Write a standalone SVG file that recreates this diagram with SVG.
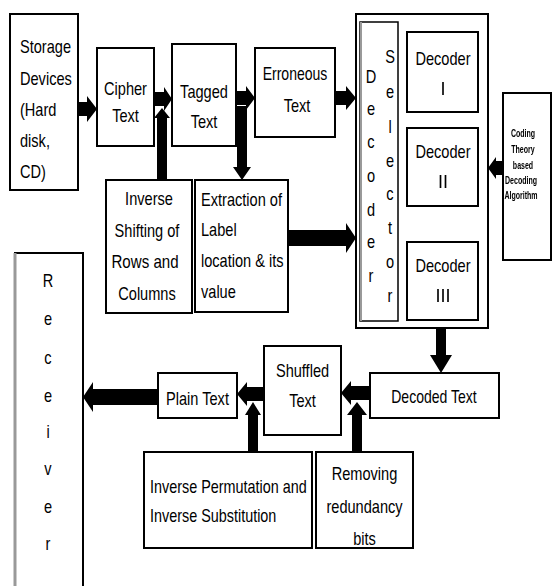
<svg xmlns="http://www.w3.org/2000/svg" width="552" height="586" viewBox="0 0 552 586">
<style>
.b{fill:#fff;stroke:#000;stroke-width:2}
text{font-family:"Liberation Sans",Arial,sans-serif;font-size:18px;fill:#000}
.m{text-anchor:middle}
.s{font-size:11px;font-weight:bold}
.a{fill:#000;stroke:none}
</style>
<defs>
<filter id="gray" x="0" y="0" width="552" height="586" filterUnits="userSpaceOnUse"><feOffset dx="0" dy="0"/></filter>
</defs>
<rect width="552" height="586" fill="#fff"/>
<g id="connectors">
<path class="a" d="M78,102 L87,102 L87,96 L97,109 L87,122 L87,116 L78,116 Z"/>
<path class="a" d="M154,92 L164,92 L164,87 L172,99 L164,111 L164,106 L154,106 Z"/>
<path class="a" d="M236,91 L246,91 L246,86 L255,98 L246,110 L246,105 L236,105 Z"/>
<path class="a" d="M157,180 L157,118 L154,118 L162,108 L170,118 L167,118 L167,180 Z"/>
<path class="a" d="M237,106 L247,106 L247,167 L251,167 L242,180 L233,167 L237,167 Z"/>
<path class="a" d="M335,91 L346,91 L346,86 L356,98 L346,110 L346,105 L335,105 Z"/>
<path class="a" d="M288,230 L346,230 L346,223 L356,238 L346,253 L346,246 L288,246 Z"/>
<path class="a" d="M503,161 L496,161 L496,157 L488,168 L496,179 L496,175 L503,175 Z"/>
<path class="a" d="M436,328 L446,328 L446,355 L452,355 L441,373 L430,355 L436,355 Z"/>
<path class="a" d="M370,386 L351,386 L351,381 L341,393 L351,405 L351,400 L370,400 Z"/>
<path class="a" d="M352,452 L352,415 L347,415 L357,402 L367,415 L362,415 L362,452 Z"/>
<path class="a" d="M264,387 L247,387 L247,382 L237,394 L247,406 L247,401 L264,401 Z"/>
<path class="a" d="M248,452 L248,415 L245,415 L253,402 L261,415 L258,415 L258,452 Z"/>
<path class="a" d="M158,389 L93,389 L93,382 L83,397 L93,412 L93,405 L158,405 Z"/>
</g>
<g id="storage">
<rect class="b" x="10" y="14" width="68" height="176"/>
<text transform="matrix(.81 0 0 1 20 0)" y="53">Storage</text>
<text transform="matrix(.81 0 0 1 20 0)" y="85">Devices</text>
<text transform="matrix(.81 0 0 1 20 0)" y="116">(Hard</text>
<text transform="matrix(.81 0 0 1 20 0)" y="147">disk,</text>
<text transform="matrix(.81 0 0 1 20 0)" y="178">CD)</text>
</g>
<g id="cipher">
<rect class="b" x="97" y="48" width="57" height="98"/>
<text class="m" transform="matrix(.81 0 0 1 125.5 0)" y="95">Cipher</text>
<text class="m" transform="matrix(.81 0 0 1 125.5 0)" y="122">Text</text>
</g>
<g id="tagged">
<rect class="b" x="172" y="44" width="64" height="102"/>
<text class="m" transform="matrix(.81 0 0 1 204 0)" y="98">Tagged</text>
<text class="m" transform="matrix(.81 0 0 1 204 0)" y="128">Text</text>
</g>
<g id="erroneous">
<rect class="b" x="255" y="48" width="80" height="89"/>
<text class="m" transform="matrix(.78 0 0 1 295 0)" y="80">Erroneous</text>
<text class="m" transform="matrix(.81 0 0 1 297 0)" y="112">Text</text>
</g>
<g id="decoder-selector">
<rect class="b" x="356" y="14" width="132" height="314"/>
<rect x="360" y="22" width="38" height="299" fill="#fff" stroke="#000" stroke-width="1.5"/>
<line x1="361" y1="22" x2="361" y2="321" stroke="#999" stroke-width="2"/>
<text class="m" transform="matrix(.81 0 0 1 371 0)" y="83">D</text>
<text class="m" transform="matrix(.81 0 0 1 371 0)" y="115">e</text>
<text class="m" transform="matrix(.81 0 0 1 371 0)" y="148">c</text>
<text class="m" transform="matrix(.81 0 0 1 371 0)" y="182">o</text>
<text class="m" transform="matrix(.81 0 0 1 371 0)" y="216">d</text>
<text class="m" transform="matrix(.81 0 0 1 371 0)" y="248">e</text>
<text class="m" transform="matrix(.81 0 0 1 371 0)" y="282">r</text>
<text class="m" transform="matrix(.81 0 0 1 390 0)" y="63">S</text>
<text class="m" transform="matrix(.81 0 0 1 390 0)" y="98">e</text>
<text class="m" transform="matrix(.81 0 0 1 390 0)" y="133">l</text>
<text class="m" transform="matrix(.81 0 0 1 390 0)" y="167">e</text>
<text class="m" transform="matrix(.81 0 0 1 390 0)" y="200">c</text>
<text class="m" transform="matrix(.81 0 0 1 390 0)" y="234">t</text>
<text class="m" transform="matrix(.81 0 0 1 390 0)" y="268">o</text>
<text class="m" transform="matrix(.81 0 0 1 390 0)" y="302">r</text>
</g>
<g id="decoder1">
<rect class="b" x="407" y="32" width="71" height="80"/>
<text class="m" transform="matrix(.81 0 0 1 443 0)" y="65">Decoder</text>
<text class="m" x="443" y="95" filter="url(#gray)">I</text>
</g>
<g id="decoder2">
<rect class="b" x="407" y="128" width="71" height="78"/>
<text class="m" transform="matrix(.81 0 0 1 443 0)" y="158">Decoder</text>
<text class="m" x="443" y="188" filter="url(#gray)">II</text>
</g>
<g id="decoder3">
<rect class="b" x="407" y="242" width="71" height="78"/>
<text class="m" transform="matrix(.81 0 0 1 443 0)" y="272">Decoder</text>
<text class="m" x="443" y="302" filter="url(#gray)">III</text>
</g>
<g id="coding" filter="url(#gray)">
<rect class="b" x="503" y="93" width="48" height="167"/>
<text class="m s" transform="matrix(.64 0 0 1 523 0)" y="137">Coding</text>
<text class="m s" transform="matrix(.64 0 0 1 523 0)" y="153">Theory</text>
<text class="m s" transform="matrix(.64 0 0 1 523 0)" y="169">based</text>
<text class="m s" transform="matrix(.64 0 0 1 521 0)" y="184">Decoding</text>
<text class="m s" transform="matrix(.64 0 0 1 521 0)" y="199">Algorithm</text>
</g>
<g id="inverse-shifting">
<rect class="b" x="106" y="180" width="86" height="133"/>
<text class="m" transform="matrix(.81 0 0 1 149 0)" y="205">Inverse</text>
<text class="m" transform="matrix(.81 0 0 1 147 0)" y="237">Shifting of</text>
<text class="m" transform="matrix(.84 0 0 1 145 0)" y="268">Rows and</text>
<text class="m" transform="matrix(.81 0 0 1 147 0)" y="300">Columns</text>
</g>
<g id="extraction">
<rect class="b" x="195" y="180" width="93" height="132"/>
<text transform="matrix(.81 0 0 1 201 0)" y="206">Extraction of</text>
<text transform="matrix(.81 0 0 1 201 0)" y="236">Label</text>
<text transform="matrix(.81 0 0 1 201 0)" y="267">location &amp; its</text>
<text transform="matrix(.81 0 0 1 201 0)" y="298">value</text>
</g>
<g id="receiver">
<rect class="b" x="15" y="253" width="68" height="340"/>
<line x1="15" y1="253" x2="15" y2="586" stroke="#999" stroke-width="3"/>
<text class="m" transform="matrix(.81 0 0 1 48 0)" y="287">R</text>
<text class="m" transform="matrix(.81 0 0 1 48 0)" y="325">e</text>
<text class="m" transform="matrix(.81 0 0 1 48 0)" y="364">c</text>
<text class="m" transform="matrix(.81 0 0 1 48 0)" y="402">e</text>
<text class="m" transform="matrix(.81 0 0 1 48 0)" y="438">i</text>
<text class="m" transform="matrix(.81 0 0 1 48 0)" y="475">v</text>
<text class="m" transform="matrix(.81 0 0 1 48 0)" y="513">e</text>
<text class="m" transform="matrix(.81 0 0 1 48 0)" y="550">r</text>
</g>
<g id="plain">
<rect class="b" x="158" y="373" width="79" height="45"/>
<text class="m" transform="matrix(.81 0 0 1 197.5 0)" y="405">Plain Text</text>
</g>
<g id="shuffled">
<rect class="b" x="264" y="346" width="77" height="89"/>
<text class="m" transform="matrix(.81 0 0 1 302.5 0)" y="377">Shuffled</text>
<text class="m" transform="matrix(.81 0 0 1 302.5 0)" y="407">Text</text>
</g>
<g id="decoded">
<rect class="b" x="370" y="373" width="129" height="45"/>
<text class="m" transform="matrix(.78 0 0 1 434 0)" y="403">Decoded Text</text>
</g>
<g id="inverse-permutation">
<rect class="b" x="144" y="452" width="168" height="96"/>
<text transform="matrix(.8 0 0 1 150 0)" y="493">Inverse Permutation and</text>
<text transform="matrix(.8 0 0 1 150 0)" y="522">Inverse Substitution</text>
</g>
<g id="removing">
<rect class="b" x="316" y="452" width="97" height="96"/>
<text class="m" transform="matrix(.81 0 0 1 364.5 0)" y="480">Removing</text>
<text class="m" transform="matrix(.81 0 0 1 364.5 0)" y="513">redundancy</text>
<text class="m" transform="matrix(.81 0 0 1 364.5 0)" y="545">bits</text>
</g>
</svg>
